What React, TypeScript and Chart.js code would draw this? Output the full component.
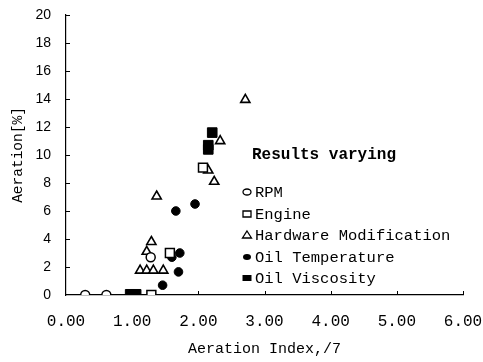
import React, { useEffect, useRef } from "react";
import { Chart, registerables } from "chart.js";

Chart.register(...registerables);

const rpmX = [0.29, 0.61, 1.28];
const rpmY = [0, 0, 2.7];

const engineX = [1.29, 1.57, 2.07];
const engineY = [0, 3.0, 9.1];

const hardwareX = [1.12, 1.22, 1.32, 1.47, 1.22, 1.29, 1.37, 2.15, 2.24, 2.33, 2.71];
const hardwareY = [1.75, 1.75, 1.75, 1.75, 3.1, 3.8, 7.05, 8.9, 8.1, 11.0, 13.95];

const oilTempX = [1.46, 1.70, 1.60, 1.72, 1.66, 1.95];
const oilTempY = [0.7, 1.65, 2.7, 3.0, 6.0, 6.5];

const oilViscX = [0.97, 1.06, 2.15, 2.15, 2.21];
const oilViscY = [0.05, 0.05, 10.4, 10.7, 11.6];

const seriesLabels = ["RPM", "Engine", "Hardware Modification", "Oil Temperature", "Oil Viscosity"];
const legendTitle = "Results varying";
const xTicks = [0, 1, 2, 3, 4, 5, 6];
const yTicks = [0, 2, 4, 6, 8, 10, 12, 14, 16, 18, 20];
const xTitle = "Aeration Index,/7";
const yTitle = "Aeration[%]";

const toPts = (xs: number[], ys: number[]) => xs.map((x, i) => ({ x, y: ys[i] }));

const innerTicks = {
  id: "innerTicks",
  afterDraw(chart: any) {
    const { ctx, chartArea, scales } = chart;
    ctx.save();
    ctx.strokeStyle = "#000";
    ctx.lineWidth = 1;
    xTicks.forEach((v) => {
      if (v === 0) return;
      const px = Math.round(scales.x.getPixelForValue(v)) + 0.5;
      ctx.beginPath();
      ctx.moveTo(px, chartArea.bottom);
      ctx.lineTo(px, chartArea.bottom - 4);
      ctx.stroke();
    });
    yTicks.forEach((v) => {
      if (v === 0) return;
      const py = Math.round(scales.y.getPixelForValue(v)) + 0.5;
      ctx.beginPath();
      ctx.moveTo(chartArea.left, py);
      ctx.lineTo(chartArea.left + 4, py);
      ctx.stroke();
    });
    ctx.restore();
  },
};

const customLegend = {
  id: "customLegend",
  afterDraw(chart: any) {
    const { ctx } = chart;
    ctx.save();
    ctx.fillStyle = "#000";
    ctx.strokeStyle = "#000";
    ctx.textBaseline = "middle";
    ctx.textAlign = "left";
    ctx.font = "bold 16px 'Liberation Mono', monospace";
    ctx.fillText(legendTitle, 252, 155);
    ctx.font = "15.5px 'Liberation Mono', monospace";
    const ys = [192, 214, 235, 257, 278];
    const mx = 247;
    chart.data.datasets.forEach((ds: any, i: number) => {
      const y = ys[i];
      ctx.lineWidth = 1.3;
      ctx.beginPath();
      if (i === 0) {
        ctx.ellipse(mx, y, 4, 3, 0, 0, Math.PI * 2);
        ctx.stroke();
      } else if (i === 1) {
        ctx.rect(mx - 4, y - 3, 8, 6);
        ctx.stroke();
      } else if (i === 2) {
        ctx.moveTo(mx, y - 4);
        ctx.lineTo(mx + 4.5, y + 3);
        ctx.lineTo(mx - 4.5, y + 3);
        ctx.closePath();
        ctx.stroke();
      } else if (i === 3) {
        ctx.ellipse(mx, y, 4, 3, 0, 0, Math.PI * 2);
        ctx.fill();
      } else {
        ctx.rect(mx - 4.5, y - 3, 9, 6);
        ctx.fill();
      }
      ctx.fillText(ds.label, 255, y + 1);
    });
    ctx.restore();
  },
};

export default function App() {
  const ref = useRef<HTMLCanvasElement | null>(null);
  useEffect(() => {
    if (!ref.current) return;
    const common = { showLine: false, borderColor: "#000" };
    const chart = new Chart(ref.current, {
      type: "scatter",
      data: {
        datasets: [
          { ...common, label: seriesLabels[0], data: toPts(rpmX, rpmY), pointStyle: "circle", pointRadius: 4.5, backgroundColor: "#fff", borderWidth: 1.5 },
          { ...common, label: seriesLabels[1], data: toPts(engineX, engineY), pointStyle: "rect", pointRadius: 6.3, backgroundColor: "#fff", borderWidth: 1.5 },
          { ...common, label: seriesLabels[2], data: toPts(hardwareX, hardwareY), pointStyle: "triangle", pointRadius: 5.3, backgroundColor: "#fff", borderWidth: 1.6 },
          { ...common, label: seriesLabels[3], data: toPts(oilTempX, oilTempY), pointStyle: "circle", pointRadius: 4.3, backgroundColor: "#000", borderWidth: 1 },
          { ...common, label: seriesLabels[4], data: toPts(oilViscX, oilViscY), pointStyle: "rect", pointRadius: 6.8, backgroundColor: "#000", borderWidth: 1 },
        ],
      } as any,
      options: {
        animation: false,
        responsive: true,
        maintainAspectRatio: false,
        layout: { padding: 0 },
        plugins: { legend: { display: false }, tooltip: { enabled: false } },
        scales: {
          x: {
            type: "linear",
            min: 0,
            max: 6,
            afterFit: (s: any) => {
              s.height = 67;
              s.paddingLeft = 0;
              s.paddingRight = 20;
            },
            afterBuildTicks: (s: any) => { s.ticks = xTicks.map((v) => ({ value: v })); },
            ticks: {
              color: "#000",
              padding: 17,
              font: { family: "'Liberation Mono', monospace", size: 16 },
              callback: (v: any) => Number(v).toFixed(2),
            },
            grid: { display: true, drawOnChartArea: false, drawTicks: false },
            border: { display: true, color: "#000", width: 1.2 },
            title: {
              display: true,
              text: xTitle,
              color: "#000",
              font: { family: "'Liberation Mono', monospace", size: 15 },
              padding: { top: 0, bottom: 4 },
            },
          },
          y: {
            type: "linear",
            min: 0,
            max: 20,
            afterFit: (s: any) => {
              s.width = 66;
              s.paddingTop = 15;
              s.paddingBottom = 0;
            },
            afterBuildTicks: (s: any) => { s.ticks = yTicks.map((v) => ({ value: v })); },
            ticks: {
              color: "#000",
              padding: 15,
              font: { family: "'Liberation Sans', Arial, sans-serif", size: 14 },
            },
            grid: { display: true, drawOnChartArea: false, drawTicks: false },
            border: { display: true, color: "#000", width: 1.2 },
            title: {
              display: true,
              text: yTitle,
              color: "#000",
              font: { family: "'Liberation Mono', monospace", size: 14.5 },
              padding: { top: 9, bottom: 0 },
            },
          },
        },
      } as any,
      plugins: [innerTicks, customLegend],
    });
    return () => chart.destroy();
  }, []);
  return (
    <div style={{ position: "fixed", left: 0, top: 0, width: 483, height: 362, background: "#fff" }}>
      <canvas ref={ref} />
    </div>
  );
}
